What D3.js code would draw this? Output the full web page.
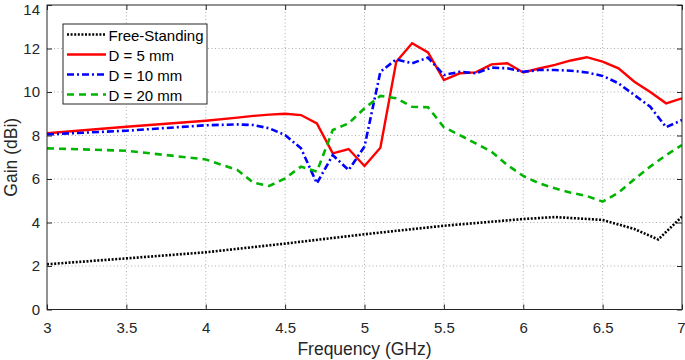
<!DOCTYPE html>
<html lang="en">
<head>
    <meta charset="UTF-8">
    <title>Gain vs Frequency</title>
    <script src="https://d3js.org/d3.v7.min.js"></script>
    <style>
        body { margin: 0; background: #fff; }
        text { font-family: "Liberation Sans", Arial, sans-serif; }
    </style>
</head>
<body>
<script>
    // frequency samples (GHz)
    const freqFine = [3.0, 3.5, 4.0, 4.5, 5.0, 5.5, 6.0, 6.2, 6.5, 6.7, 6.85, 7.0];
    const freeStanding = [2.08, 2.35, 2.63, 3.03, 3.46, 3.85, 4.16, 4.25, 4.12, 3.7, 3.22, 4.27];

    const freq = [3.0, 3.5, 4.0, 4.2, 4.3, 4.4, 4.5, 4.6, 4.7, 4.8, 4.9, 5.0, 5.1, 5.2, 5.3, 5.4,
        5.5, 5.6, 5.7, 5.8, 5.9, 6.0, 6.1, 6.2, 6.3, 6.4, 6.5, 6.6, 6.7, 6.8, 6.9, 7.0];
    const d5 = [8.1, 8.4, 8.68, 8.82, 8.9, 8.96, 9.0, 8.94, 8.56, 7.18, 7.38, 6.6, 7.44, 11.39, 12.24, 11.82,
        10.55, 10.86, 10.9, 11.27, 11.32, 10.9, 11.08, 11.25, 11.45, 11.6, 11.4, 11.09, 10.47, 10.0, 9.48, 9.71];
    const d10 = [8.05, 8.22, 8.47, 8.51, 8.48, 8.33, 8.02, 7.41, 5.8, 7.1, 6.41, 7.49, 10.93, 11.5, 11.32, 11.58,
        10.78, 10.93, 10.86, 11.12, 11.09, 10.93, 11.01, 11.01, 10.98, 10.9, 10.74, 10.4, 9.86, 9.32, 8.38, 8.71];
    const d20 = [7.41, 7.3, 6.9, 6.41, 5.83, 5.68, 6.03, 6.57, 6.34, 8.25, 8.56, 9.25, 9.82, 9.71, 9.32, 9.3,
        8.38, 8.02, 7.64, 7.26, 6.64, 6.14, 5.8, 5.57, 5.37, 5.22, 4.96, 5.37, 5.99, 6.57, 7.1, 7.56];

    const xTicks = [3, 3.5, 4, 4.5, 5, 5.5, 6, 6.5, 7];
    const yTicks = [0, 2, 4, 6, 8, 10, 12, 14];

    const series = [
        {name: "Free-Standing", x: freqFine, y: freeStanding, color: "#000", width: 2.6, dash: "2,1.6"},
        {name: "D = 5 mm", x: freq, y: d5, color: "#ff0000", width: 2.4, dash: null},
        {name: "D = 10 mm", x: freq, y: d10, color: "#0000ff", width: 2.6, dash: "7,3,2,3"},
        {name: "D = 20 mm", x: freq, y: d20, color: "#00b400", width: 2.6, dash: "7,5"}
    ];

    const width = 685, height = 360;
    const pLeft = 47, pRight = 682, pTop = 5, pBottom = 309.5;

    const x = d3.scaleLinear().domain([3, 7]).range([pLeft, pRight]);
    const y = d3.scaleLinear().domain([0, 14]).range([pBottom, pTop]);

    const svg = d3.select("body").append("svg")
        .attr("width", width)
        .attr("height", height);

    // grid
    svg.append("g")
        .selectAll("line")
        .data(xTicks.slice(1, -1))
        .join("line")
        .attr("x1", d => x(d)).attr("x2", d => x(d))
        .attr("y1", pTop).attr("y2", pBottom)
        .attr("stroke", "#999").attr("stroke-width", 0.8)
        .attr("stroke-dasharray", "1,2.5");
    svg.append("g")
        .selectAll("line")
        .data(yTicks.slice(1, -1))
        .join("line")
        .attr("x1", pLeft).attr("x2", pRight)
        .attr("y1", d => y(d)).attr("y2", d => y(d))
        .attr("stroke", "#999").attr("stroke-width", 0.8)
        .attr("stroke-dasharray", "1,2.5");

    // lines
    const line = d3.line().x(d => x(d[0])).y(d => y(d[1]));
    svg.append("defs").append("clipPath").attr("id", "plot")
        .append("rect").attr("x", pLeft).attr("y", pTop)
        .attr("width", pRight - pLeft).attr("height", pBottom - pTop);
    series.forEach(s => {
        svg.append("path")
            .datum(d3.zip(s.x, s.y))
            .attr("clip-path", "url(#plot)")
            .attr("fill", "none")
            .attr("stroke", s.color)
            .attr("stroke-width", s.width)
            .attr("stroke-dasharray", s.dash)
            .attr("d", line);
    });

    // axes
    const tickStyle = g => {
        g.select(".domain").remove();
        g.selectAll("line").attr("stroke", "#262626");
        g.selectAll("text").attr("font-size", 15).attr("fill", "#262626");
    };
    const xAxis = svg.append("g")
        .attr("transform", `translate(0,${pBottom})`)
        .call(d3.axisBottom(x).tickValues(xTicks).tickFormat(d3.format("")).tickSizeInner(-5).tickPadding(12.5))
        .call(tickStyle);
    // keep the last label inside the page edge
    xAxis.selectAll(".tick text").filter(d => d === 7)
        .attr("text-anchor", "end").attr("x", 3);
    svg.append("g")
        .attr("transform", `translate(0,${pTop})`)
        .call(d3.axisTop(x).tickValues(xTicks).tickFormat("").tickSizeInner(-5))
        .call(tickStyle);
    const yAxis = svg.append("g")
        .attr("transform", `translate(${pLeft},0)`)
        .call(d3.axisLeft(y).tickValues(yTicks).tickSizeInner(-5).tickPadding(7))
        .call(tickStyle);
    yAxis.selectAll(".tick text").filter(d => d === 14)
        .attr("dy", "0.62em");
    svg.append("g")
        .attr("transform", `translate(${pRight},0)`)
        .call(d3.axisRight(y).tickValues(yTicks).tickFormat("").tickSizeInner(-5))
        .call(tickStyle);

    svg.append("rect")
        .attr("x", pLeft).attr("y", pTop)
        .attr("width", pRight - pLeft).attr("height", pBottom - pTop)
        .attr("fill", "none").attr("stroke", "#262626").attr("stroke-width", 1);

    // axis labels
    svg.append("text")
        .attr("x", (pLeft + pRight) / 2).attr("y", 355)
        .attr("text-anchor", "middle")
        .attr("font-size", 17.5).attr("fill", "#262626")
        .text("Frequency (GHz)");
    svg.append("text")
        .attr("transform", `translate(16.5,${(pTop + pBottom) / 2}) rotate(-90)`)
        .attr("text-anchor", "middle")
        .attr("font-size", 17.5).attr("fill", "#262626")
        .text("Gain (dBi)");

    // legend
    const lg = svg.append("g").attr("transform", "translate(63,24)");
    lg.append("rect")
        .attr("width", 144).attr("height", 80)
        .attr("fill", "#fff").attr("stroke", "#262626").attr("stroke-width", 1);
    series.forEach((s, i) => {
        const yy = 10.5 + i * 20;
        lg.append("line")
            .attr("x1", 4).attr("x2", 43)
            .attr("y1", yy).attr("y2", yy)
            .attr("stroke", s.color)
            .attr("stroke-width", s.width)
            .attr("stroke-dasharray", s.dash);
        lg.append("text")
            .attr("x", 45.5).attr("y", yy + 6)
            .attr("font-size", 15).attr("fill", "#000")
            .text(s.name);
    });
</script>
</body>
</html>
